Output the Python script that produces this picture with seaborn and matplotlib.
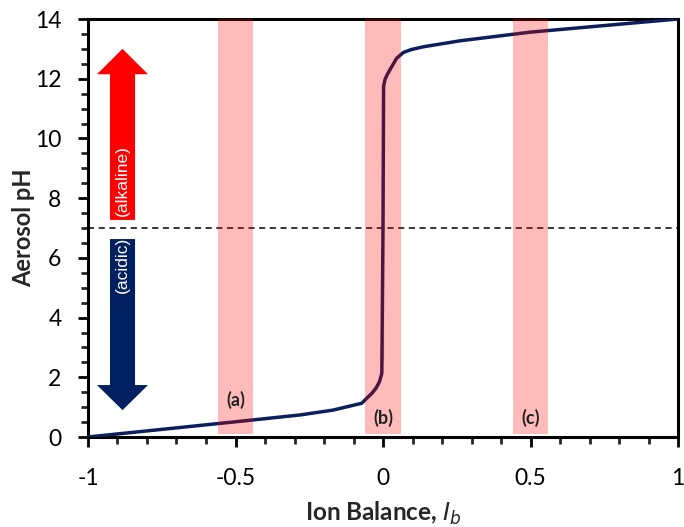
import matplotlib
matplotlib.use("Agg")
import matplotlib.pyplot as plt
import seaborn as sns
import pandas as pd
from matplotlib.ticker import MultipleLocator

# Data
ion_balance = [-1.0, -0.5, -0.28, -0.17, -0.072, -0.055, -0.038, -0.024, -0.012, -0.004, 0.0,
               0.0, 0.002, 0.007, 0.015, 0.024, 0.046, 0.069, 0.097, 0.137, 0.193, 0.261, 0.5, 1.0]
aerosol_ph = [0.0, 0.51, 0.74, 0.9, 1.13, 1.30, 1.46, 1.63, 1.85, 2.13, 2.47,
              11.5, 11.75, 11.98, 12.15, 12.31, 12.68, 12.88, 12.98, 13.07, 13.16, 13.27, 13.56, 14.0]
band_centers = [-0.5, 0.0, 0.5]
band_labels = ["(a)", "(b)", "(c)"]
band_label_y = [1.24, 0.64, 0.64]
neutral_ph = 7

sns.set_theme(style="ticks")
plt.rcParams['font.family'] = ['Lato', 'DejaVu Sans']

fig = plt.figure(figsize=(6.84, 5.27), dpi=100)
ax = fig.add_axes([88/684, 1-437/527, (678-88)/684, (437-19)/527])

df = pd.DataFrame({"Ib": ion_balance, "pH": aerosol_ph})
sns.lineplot(data=df, x="Ib", y="pH", sort=False, color="#0B1F5C", lw=2.5, ax=ax, zorder=3)
for l in ax.lines:
    l.set_solid_joinstyle("round")
    l.set_solid_capstyle("round")

for c in band_centers:
    ax.axvspan(c - 0.06, c + 0.06, ymin=0.006, ymax=1, color="red", alpha=0.27, lw=0, zorder=4)
for c, lab, yy in zip(band_centers, band_labels, band_label_y):
    ax.text(c, yy, lab, ha="center", va="center", fontsize=13, fontweight="bold", color="#222222", zorder=6)

ax.axhline(neutral_ph, color="black", ls=(0, (4, 3)), lw=1.1, zorder=2)

# arrows
ax.arrow(-0.883, 7.27, 0, 13.0 - 7.27, width=0.085, head_width=0.173, head_length=0.85,
         length_includes_head=True, color="#FF0000", lw=0, zorder=5)
ax.arrow(-0.883, 6.63, 0, 0.9 - 6.63, width=0.085, head_width=0.173, head_length=0.84,
         length_includes_head=True, color="#002060", lw=0, zorder=5)
ax.text(-0.884, 8.6, "(alkaline)", rotation=90, ha="center", va="center", color="white",
        fontsize=12.5, family="Liberation Sans", zorder=6)
ax.text(-0.884, 5.75, "(acidic)", rotation=90, ha="center", va="center", color="white",
        fontsize=12.5, family="Liberation Sans", zorder=6)

ax.set_xlim(-1, 1)
ax.set_ylim(0, 14)
ax.set_xticks([-1, -0.5, 0, 0.5, 1])
ax.set_xticklabels(["-1", "-0.5", "0", "0.5", "1"])
ax.set_yticks(range(0, 15, 2))
ax.xaxis.set_minor_locator(MultipleLocator(0.1))
ax.yaxis.set_minor_locator(MultipleLocator(0.5))
ax.tick_params(which="major", direction="out", length=7, width=2, labelsize=16.5, colors="black")
ax.tick_params(which="minor", direction="out", length=5, width=2)
ax.tick_params(axis="x", which="major", pad=15)
ax.tick_params(axis="y", which="major", pad=12)
for s in ax.spines.values():
    s.set_linewidth(2.2)
    s.set_color("black")
    s.set_visible(True)

ax.set_xlabel(r"Ion Balance, $\boldsymbol{I_b}$", fontsize=17.5, fontweight="bold", labelpad=8)
ax.set_ylabel("Aerosol pH", fontsize=17, fontweight="bold", labelpad=0)

fig.savefig("out.png", dpi=100)
